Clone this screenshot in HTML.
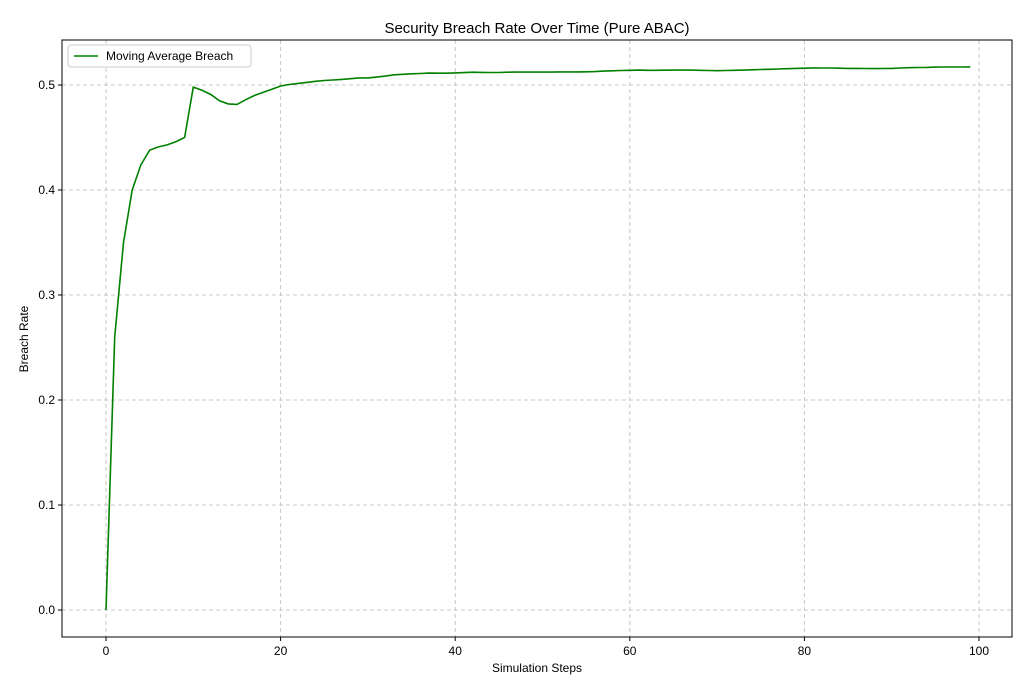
<!DOCTYPE html>
<html><head><meta charset="utf-8"><style>
body{margin:0;background:#fff;font-family:"Liberation Sans",sans-serif;}
</style></head><body>
<svg id="chart" width="1026" height="679" xmlns="http://www.w3.org/2000/svg" font-family="Liberation Sans, sans-serif">
<text x="537" y="33" text-anchor="middle" font-size="15">Security Breach Rate Over Time (Pure ABAC)</text>
<g id="grid"></g>
<g id="ticks"></g>
<path id="line" fill="none" stroke="#008000" stroke-width="1.6"/>
<rect x="62" y="40" width="950" height="597" fill="none" stroke="#000" stroke-width="1"/>
<text x="537" y="672" text-anchor="middle" font-size="12">Simulation Steps</text>
<text transform="translate(28,339) rotate(-90)" text-anchor="middle" font-size="12">Breach Rate</text>
<g>
<rect x="68" y="45" width="183" height="22" rx="3" fill="#fff" stroke="#ccc"/>
<line x1="74" y1="56" x2="98" y2="56" stroke="#008000" stroke-width="1.6"/>
<text x="106" y="60" font-size="12">Moving Average Breach</text>
</g>
</svg>
<script>
const xTicks=[0,20,40,60,80,100];
const yTicks=[0.0,0.1,0.2,0.3,0.4,0.5];
const breach=[0,0.26,0.35,0.40,0.424,0.438,0.441,0.443,0.446,0.450,
0.498,0.495,0.491,0.485,0.482,0.4815,0.486,0.490,0.493,0.496,
0.499,0.5005,0.5015,0.5025,0.5035,0.5043,0.5048,0.5053,0.506,0.5068,
0.5068,0.5075,0.5085,0.5097,0.5102,0.5107,0.511,0.5113,0.5112,0.5112,
0.5115,0.5118,0.5122,0.512,0.5119,0.5119,0.5122,0.5123,0.5123,0.5123,
0.5124,0.5123,0.5125,0.5125,0.5125,0.5126,0.5128,0.5132,0.5135,0.5138,
0.514,0.5142,0.514,0.514,0.5141,0.5142,0.5143,0.5142,0.514,0.5138,
0.5136,0.5138,0.514,0.5142,0.5145,0.5148,0.515,0.5152,0.5155,0.5158,
0.516,0.5163,0.5162,0.5162,0.516,0.5158,0.5158,0.5157,0.5156,0.5157,
0.5158,0.5162,0.5165,0.5167,0.5168,0.517,0.5171,0.5171,0.5171,0.5172];
const X=v=>106+v*8.73, Y=v=>610-v*1050;
const ns="http://www.w3.org/2000/svg";
const grid=document.getElementById('grid'), ticks=document.getElementById('ticks');
function mk(t,a,p){const e=document.createElementNS(ns,t);for(const k in a)e.setAttribute(k,a[k]);p.appendChild(e);return e;}
xTicks.forEach(v=>{
 const g=mk('line',{x1:X(v),x2:X(v),y1:40,y2:637,stroke:'#c8c8c8','stroke-dasharray':'4,3'},grid);
 
 
 mk('line',{x1:X(v),x2:X(v),y1:637,y2:641,stroke:'#000'},ticks);
 const t=mk('text',{x:X(v),y:655,'text-anchor':'middle','font-size':12},ticks);
 t.textContent=v;
 
 
});
yTicks.forEach(v=>{
 const g=mk('line',{x1:62,x2:1012,y1:Y(v),y2:Y(v),stroke:'#c8c8c8','stroke-dasharray':'4,3'},grid);
 
 
 mk('line',{x1:58,x2:62,y1:Y(v),y2:Y(v),stroke:'#000'},ticks);
 const t=mk('text',{x:55,y:Y(v)+4,'text-anchor':'end','font-size':12},ticks);
 t.textContent=v.toFixed(1);
 
 
});
document.getElementById('line').setAttribute('d',breach.map((v,i)=>(i?'L':'M')+X(i).toFixed(1)+','+Y(v).toFixed(1)).join(''));
</script>
</body></html>
